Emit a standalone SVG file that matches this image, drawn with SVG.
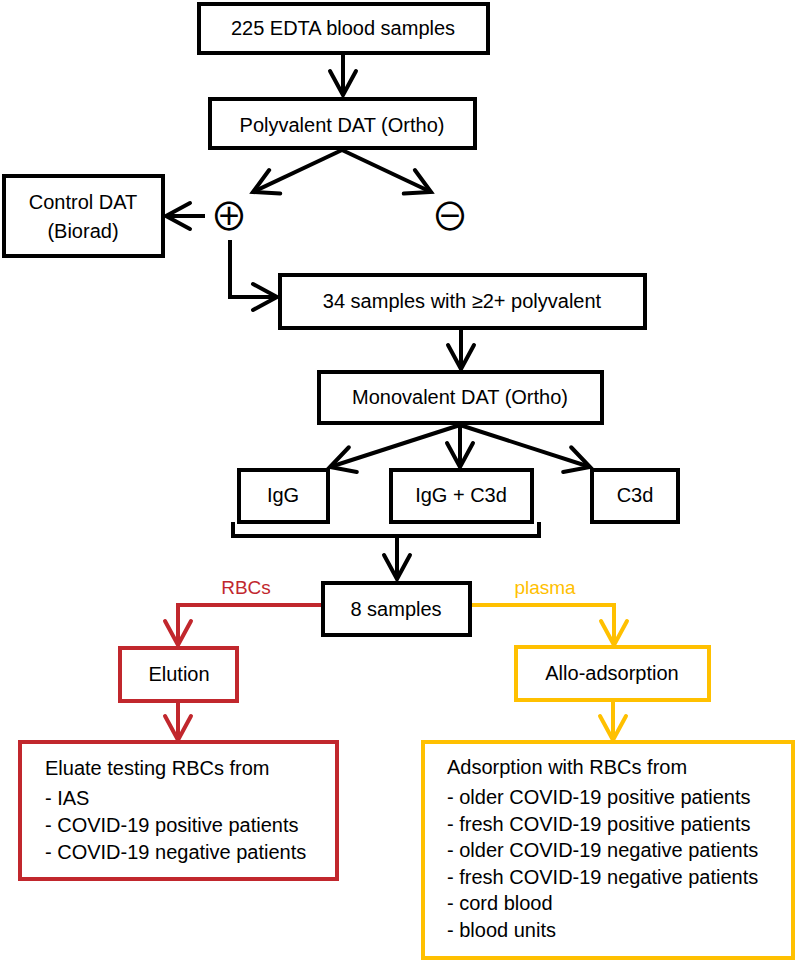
<svg xmlns="http://www.w3.org/2000/svg" width="800" height="967" viewBox="0 0 800 967">
<defs>
<style>
.box{fill:#fff;stroke:#000;stroke-width:4}
.rbox{fill:#fff;stroke:#C1272D;stroke-width:4}
.ybox{fill:#fff;stroke:#FFC000;stroke-width:4}
text{font-family:"Liberation Sans",Arial,sans-serif;font-size:20px;fill:#000}
.c{text-anchor:middle}
.sym{font-family:"Noto Sans CJK SC","DejaVu Sans",sans-serif;font-size:38px;font-weight:normal}
.k{fill:none;stroke:#000;stroke-width:4;marker-end:url(#ak)}
.r{fill:none;stroke:#C1272D;stroke-width:4;marker-end:url(#ar)}
.y{fill:none;stroke:#FFC000;stroke-width:4;marker-end:url(#ay)}
</style>
<marker id="ak" markerUnits="userSpaceOnUse" viewBox="-30 -20 40 40" markerWidth="40" markerHeight="40" refX="0" refY="0" orient="auto" overflow="visible"><path d="M-24,-13 L0,0 L-24,13" fill="none" stroke="#000" stroke-width="4" stroke-linecap="round"/></marker>
<marker id="ar" markerUnits="userSpaceOnUse" viewBox="-30 -20 40 40" markerWidth="40" markerHeight="40" refX="0" refY="0" orient="auto" overflow="visible"><path d="M-24,-13 L0,0 L-24,13" fill="none" stroke="#C1272D" stroke-width="4" stroke-linecap="round"/></marker>
<marker id="ay" markerUnits="userSpaceOnUse" viewBox="-30 -20 40 40" markerWidth="40" markerHeight="40" refX="0" refY="0" orient="auto" overflow="visible"><path d="M-24,-13 L0,0 L-24,13" fill="none" stroke="#FFC000" stroke-width="4" stroke-linecap="round"/></marker>
</defs>
<rect width="800" height="967" fill="#fff"/>
<g id="connectors">
<path class="k" d="M343,53 L343,95"/>
<path class="k" d="M342,150 L253,192"/>
<path class="k" d="M342,150 L431,192"/>
<path class="k" d="M205,216 L166,216"/>
<path class="k" d="M230,240 L230,297 L277,297"/>
<path class="k" d="M461,328 L461,369"/>
<path class="k" d="M460,425 L330,467"/>
<path class="k" d="M460,425 L460,467"/>
<path class="k" d="M460,425 L590,467"/>
<path d="M233,522 L233,536 L539,536 L539,522" fill="none" stroke="#000" stroke-width="4"/>
<path class="k" d="M397,536 L397,579"/>
<path class="r" d="M323,605 L178,605 L178,645"/>
<path class="r" d="M178,701 L178,740"/>
<path class="y" d="M470,605 L614,605 L614,645"/>
<path class="y" d="M613,700 L613,740"/>
<text x="246" y="594" class="c" style="fill:#C1272D;font-size:19px">RBCs</text>
<text x="545" y="594" class="c" style="fill:#FFC000;font-size:19px">plasma</text>
</g>
<g id="n-edta"><rect class="box" x="199" y="4" width="289" height="49"/><text x="343" y="35" class="c">225 EDTA blood samples</text></g>
<g id="n-poly"><rect class="box" x="210" y="99" width="265" height="49"/><text x="342" y="132" class="c">Polyvalent DAT (Ortho)</text></g>
<g id="n-pos"><text x="229" y="230" class="c sym">⊕</text></g>
<g id="n-neg"><text x="450" y="230" class="c sym">⊖</text></g>
<g id="n-control"><rect class="box" x="4" y="176" width="159" height="80"/><text x="83" y="209" class="c">Control DAT</text><text x="83" y="238" class="c">(Biorad)</text></g>
<g id="n-34"><rect class="box" x="280" y="275" width="365" height="53"/><text x="462" y="308" class="c">34 samples with ≥2+ polyvalent</text></g>
<g id="n-mono"><rect class="box" x="319" y="372" width="283" height="51"/><text x="460" y="404" class="c">Monovalent DAT (Ortho)</text></g>
<g id="n-igg"><rect class="box" x="239" y="470" width="89" height="52"/><text x="283" y="502" class="c">IgG</text></g>
<g id="n-iggc3d"><rect class="box" x="391" y="470" width="141" height="52"/><text x="461" y="502" class="c">IgG + C3d</text></g>
<g id="n-c3d"><rect class="box" x="592" y="470" width="86" height="52"/><text x="635" y="502" class="c">C3d</text></g>
<g id="n-8"><rect class="box" x="323" y="583" width="147" height="52"/><text x="396" y="616" class="c">8 samples</text></g>
<g id="n-elution"><rect class="rbox" x="120" y="648" width="117" height="53"/><text x="179" y="681" class="c">Elution</text></g>
<g id="n-allo"><rect class="ybox" x="516" y="647" width="193" height="53"/><text x="612" y="680" class="c">Allo-adsorption</text></g>
<g id="n-eluate"><rect class="rbox" x="20" y="742" width="317" height="137"/>
<text x="45" y="775">Eluate testing RBCs from</text>
<text x="45" y="805">- IAS</text>
<text x="45" y="832">- COVID-19 positive patients</text>
<text x="45" y="859">- COVID-19 negative patients</text></g>
<g id="n-adsorb"><rect class="ybox" x="423" y="742" width="370" height="216"/>
<text x="447" y="774">Adsorption with RBCs from</text>
<text x="447" y="804">- older COVID-19 positive patients</text>
<text x="447" y="831">- fresh COVID-19 positive patients</text>
<text x="447" y="857">- older COVID-19 negative patients</text>
<text x="447" y="884">- fresh COVID-19 negative patients</text>
<text x="447" y="910">- cord blood</text>
<text x="447" y="937">- blood units</text></g>
</svg>
